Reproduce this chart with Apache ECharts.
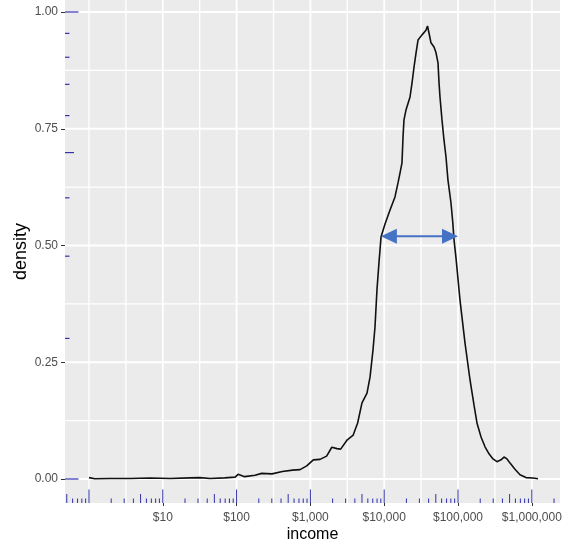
<!DOCTYPE html>
<html><head><meta charset="utf-8">
<script src="https://cdn.jsdelivr.net/npm/echarts@6/dist/echarts.min.js"></script>
<style>html,body{margin:0;padding:0;background:#fff}#c{width:567px;height:545px}</style>
</head><body><div id="c"></div>
<script>
// x values are log10(income in $)
const log10Income = [0.00,0.08,0.28,0.56,0.83,1.10,1.37,1.50,1.64,1.84,1.98,2.02,2.11,2.25,2.34,2.48,2.62,2.76,2.86,2.95,
  3.04,3.13,3.22,3.29,3.36,3.41,3.50,3.58,3.64,3.699,3.767,3.808,3.848,3.875,3.902,3.930,3.957,4.011,4.079,4.146,
  4.187,4.214,4.241,4.255,4.268,4.295,4.350,4.377,4.404,4.431,4.458,4.512,4.539,4.566,4.587,4.607,4.634,4.675,4.700,4.729,
  4.743,4.756,4.783,4.810,4.837,4.864,4.905,4.930,4.946,4.973,5.027,5.095,5.163,5.217,5.257,5.312,5.366,5.420,5.474,5.528,
  5.583,5.623,5.664,5.705,5.772,5.840,5.921,6.016,6.084];
const density = [0.003,0.0005,0.001,0.001,0.002,0.001,0.0025,0.003,0.001,0.0025,0.004,0.010,0.005,0.008,0.012,0.011,0.016,0.019,0.020,0.028,
  0.041,0.042,0.049,0.068,0.065,0.064,0.084,0.094,0.120,0.163,0.184,0.218,0.276,0.325,0.405,0.465,0.518,0.546,0.576,0.604,
  0.634,0.655,0.677,0.732,0.769,0.790,0.818,0.848,0.882,0.912,0.940,0.951,0.953,0.961,0.970,0.955,0.934,0.925,0.914,0.891,
  0.848,0.818,0.769,0.726,0.690,0.640,0.591,0.548,0.512,0.473,0.383,0.291,0.212,0.158,0.120,0.090,0.069,0.054,0.043,0.037,
  0.041,0.047,0.043,0.034,0.021,0.009,0.003,0.002,0.0005];

const xBreaks = [1,2,3,4,5,6];
const xGridMajor = [1,2,3,4,5,6];
const xGridMinor = [0,0.5,1.5,2.5,3.5,4.5,5.5];
const yBreaks = [0,0.25,0.5,0.75,1];
const yGridMinor = [0.125,0.375,0.625,0.875];
const logTickMultipliers = [1,2,3,4,5,6,7,8,9];
const logTickDecadesX = [-1,0,1,2,3,4,5,6];
const logTickMultipliersY = [1,2,3,4,5,6,7,8,9,10];
// double arrow (log10 income from, to, density)
const arrowFrom = 3.955, arrowTo = 5.0, arrowDensity = 0.52;

const xMin = -0.325, xMax = 6.382, yMin = -0.0514, yMax = 1.0257;

const xLogTicks = [];
logTickDecadesX.forEach(d => logTickMultipliers.forEach(k => {
  const v = d + Math.log10(k);
  if (v >= xMin && v <= xMax) xLogTicks.push([v, k]);
}));
const yLogTicks = logTickMultipliersY.map(k => [Math.log10(k), k]);

const FONT = "'Liberation Sans', Arial, sans-serif";
const TICKBLUE = '#3232ad';
function tickLen(k){ return (k === 1 || k === 10) ? 13.5 : (k === 5 ? 9 : 4.5); }

function vGrid(width){
  return function(params, api){
    const cs = params.coordSys;
    const x = api.coord([api.value(0), 0])[0];
    return {type:'line', shape:{x1:x, y1:cs.y, x2:x, y2:cs.y+cs.height}, style:{stroke:'#ffffff', lineWidth:width}};
  };
}
function hGrid(width){
  return function(params, api){
    const cs = params.coordSys;
    const y = api.coord([0, api.value(0)])[1];
    return {type:'line', shape:{x1:cs.x, y1:y, x2:cs.x+cs.width, y2:y}, style:{stroke:'#ffffff', lineWidth:width}};
  };
}

const chart = echarts.init(document.getElementById('c'), null, {renderer:'canvas'});
chart.setOption({
  animation:false,
  grid:{left:65, right:7, top:0, bottom:42, show:true, backgroundColor:'#ebebeb', borderWidth:0, containLabel:false, outerBoundsMode:'none'},
  xAxis:{
    type:'value', min:xMin, max:xMax,
    splitLine:{show:false}, axisLine:{show:false, onZero:false},
    axisTick:{show:true, customValues:xBreaks, length:3, lineStyle:{color:'#333333', width:1}},
    axisLabel:{customValues:xBreaks, color:'#4d4d4d', fontSize:12, fontFamily:FONT, margin:9,
      formatter: v => '$' + Math.round(Math.pow(10, v)).toLocaleString('en-US')},
    name:'income', nameLocation:'middle', nameGap:24, nameMoveOverlap:false,
    nameTextStyle:{color:'#000000', fontSize:16, fontFamily:FONT}
  },
  yAxis:{
    type:'value', min:yMin, max:yMax,
    splitLine:{show:false}, axisLine:{show:false, onZero:false},
    axisTick:{show:true, customValues:yBreaks, length:4, lineStyle:{color:'#333333', width:1}},
    axisLabel:{customValues:yBreaks, color:'#4d4d4d', fontSize:12, fontFamily:FONT, margin:7,
      formatter: v => v.toFixed(2)},
    name:'density', nameLocation:'middle', nameGap:35, nameRotate:90, nameMoveOverlap:false,
    nameTextStyle:{color:'#000000', fontSize:18, fontFamily:FONT}
  },
  series:[
    {type:'custom', silent:true, z:1, data:xGridMinor.map(v=>[v]), renderItem:vGrid(1.3)},
    {type:'custom', silent:true, z:1, data:yGridMinor.map(v=>[v]), renderItem:hGrid(1.3)},
    {type:'custom', silent:true, z:1, data:xGridMajor.map(v=>[v]), renderItem:vGrid(1.8)},
    {type:'custom', silent:true, z:1, data:yBreaks.map(v=>[v]), renderItem:hGrid(1.8)},
    {type:'line', z:3, silent:true, data:log10Income.map((x,i)=>[x, density[i]]),
      showSymbol:false, symbol:'none', smooth:false,
      lineStyle:{color:'#111111', width:1.6}},
    {type:'custom', silent:true, z:4, data:xLogTicks,
      renderItem:function(params, api){
        const cs = params.coordSys;
        const x = api.coord([api.value(0), 0])[0];
        const b = cs.y + cs.height;
        return {type:'line', shape:{x1:x, y1:b, x2:x, y2:b - tickLen(api.value(1))}, style:{stroke:TICKBLUE, lineWidth:1}};
      }},
    {type:'custom', silent:true, z:4, data:yLogTicks,
      renderItem:function(params, api){
        const cs = params.coordSys;
        const y = api.coord([0, api.value(0)])[1];
        return {type:'line', shape:{x1:cs.x, y1:y, x2:cs.x + tickLen(api.value(1)), y2:y}, style:{stroke:TICKBLUE, lineWidth:1.2}};
      }},
    {type:'custom', silent:true, z:5, data:[[arrowFrom, arrowTo, arrowDensity]],
      encode:{x:[0,1], y:2},
      renderItem:function(params, api){
        const p1 = api.coord([api.value(0), api.value(2)]);
        const p2 = api.coord([api.value(1), api.value(2)]);
        const dx = p2[0]-p1[0], dy = p2[1]-p1[1];
        const L = Math.sqrt(dx*dx+dy*dy), ux = dx/L, uy = dy/L, nx = -uy, ny = ux;
        const hl = 16, hw = 7.5, col = '#4472c4';
        return {type:'group', children:[
          {type:'line', shape:{x1:p1[0]+ux*hl*0.8, y1:p1[1]+uy*hl*0.8, x2:p2[0]-ux*hl*0.8, y2:p2[1]-uy*hl*0.8}, style:{stroke:col, lineWidth:2}},
          {type:'polygon', shape:{points:[[p1[0],p1[1]],[p1[0]+ux*hl+nx*hw,p1[1]+uy*hl+ny*hw],[p1[0]+ux*hl-nx*hw,p1[1]+uy*hl-ny*hw]]}, style:{fill:col}},
          {type:'polygon', shape:{points:[[p2[0],p2[1]],[p2[0]-ux*hl+nx*hw,p2[1]-uy*hl+ny*hw],[p2[0]-ux*hl-nx*hw,p2[1]-uy*hl-ny*hw]]}, style:{fill:col}}
        ]};
      }}
  ]
});
</script></body></html>
